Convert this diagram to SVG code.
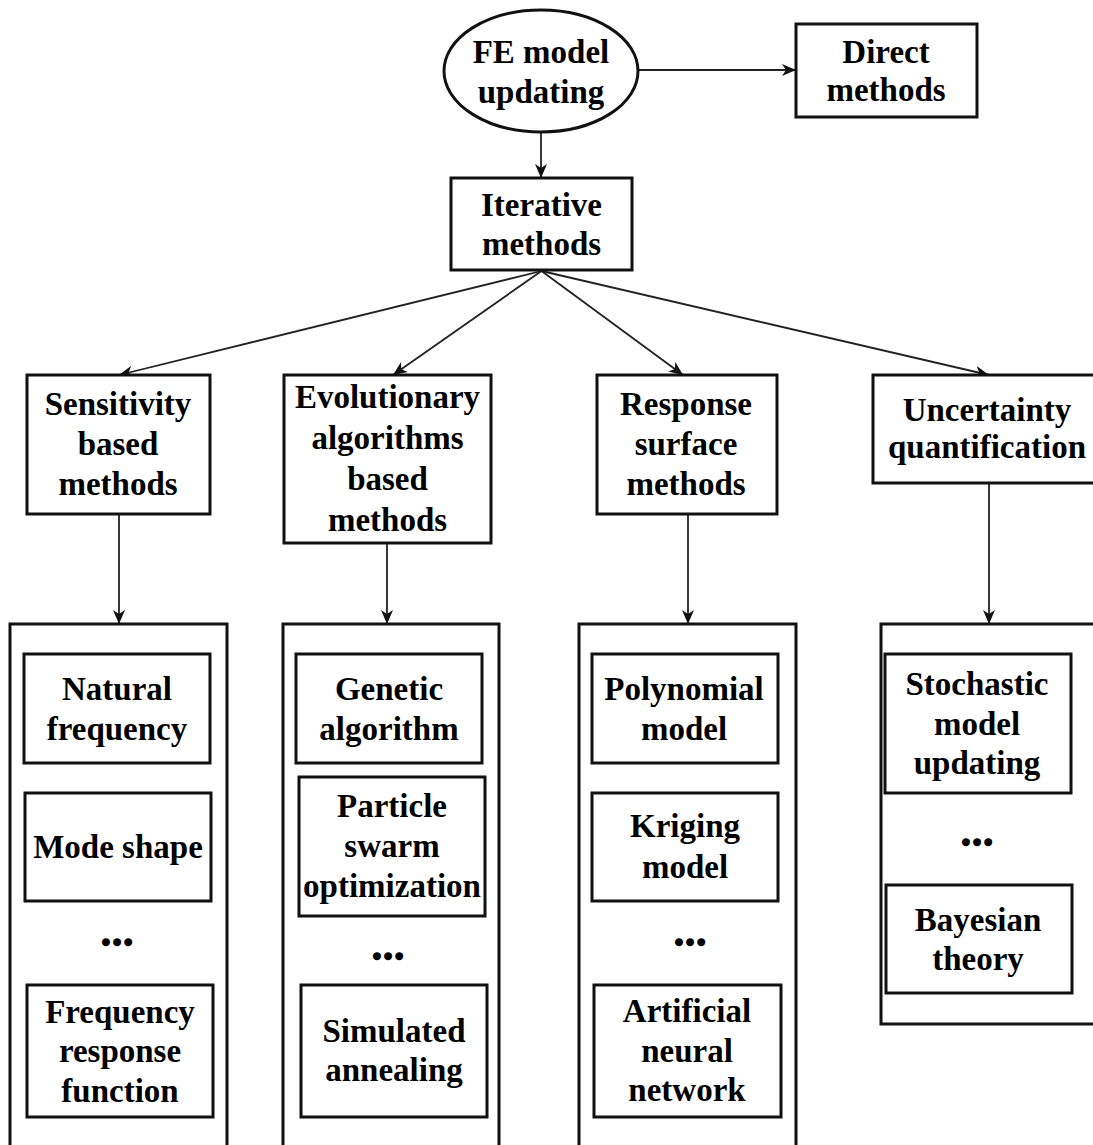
<svg xmlns="http://www.w3.org/2000/svg" width="1093" height="1145" viewBox="0 0 1093 1145">
<style>
.box{fill:#fff;stroke:#111;stroke-width:3}
.cont{fill:none;stroke:#111;stroke-width:3}
.con{fill:none;stroke:#222;stroke-width:1.8}
text{font-family:"Liberation Serif","Times New Roman",serif;font-weight:bold;font-size:33px;fill:#000;text-anchor:middle}
text.dots{stroke:#000;stroke-width:2.6}
</style>
<defs>
<marker id="ah" markerUnits="userSpaceOnUse" markerWidth="14" markerHeight="12" refX="14" refY="6" orient="auto">
<path d="M0,0 L14,6 L0,12 L4,6 z" fill="#111"/>
</marker>
</defs>
<rect width="1093" height="1145" fill="#fff"/>
<g id="connectors">
<line class="con" x1="638" y1="70" x2="796" y2="70" marker-end="url(#ah)"/>
<line class="con" x1="541" y1="132" x2="541" y2="178" marker-end="url(#ah)"/>
<line class="con" x1="541.5" y1="271" x2="119" y2="375" marker-end="url(#ah)"/>
<line class="con" x1="541.5" y1="271" x2="393" y2="375" marker-end="url(#ah)"/>
<line class="con" x1="541.5" y1="271" x2="683" y2="375" marker-end="url(#ah)"/>
<line class="con" x1="541.5" y1="271" x2="989" y2="375" marker-end="url(#ah)"/>
<line class="con" x1="119" y1="514" x2="119" y2="624" marker-end="url(#ah)"/>
<line class="con" x1="387" y1="543" x2="387" y2="624" marker-end="url(#ah)"/>
<line class="con" x1="688" y1="514" x2="688" y2="624" marker-end="url(#ah)"/>
<line class="con" x1="989" y1="483" x2="989" y2="624" marker-end="url(#ah)"/>
</g>
<g id="fe-model-updating">
<ellipse class="box" cx="541" cy="71" rx="97" ry="61"/>
<text x="541" y="63">FE model</text>
<text x="541" y="103">updating</text>
</g>
<g id="direct-methods">
<rect class="box" x="796" y="24" width="181" height="93"/>
<text x="886" y="63">Direct</text>
<text x="886" y="101">methods</text>
</g>
<g id="iterative-methods">
<rect class="box" x="451" y="178" width="181" height="92"/>
<text x="541.5" y="216">Iterative</text>
<text x="541.5" y="255">methods</text>
</g>
<g id="sensitivity">
<rect class="box" x="27" y="375" width="183" height="139"/>
<text x="118" y="415">Sensitivity</text>
<text x="118" y="455">based</text>
<text x="118" y="495">methods</text>
</g>
<g id="evolutionary">
<rect class="box" x="284" y="375" width="207" height="168"/>
<text x="387.5" y="408">Evolutionary</text>
<text x="387.5" y="449">algorithms</text>
<text x="387.5" y="490">based</text>
<text x="387.5" y="531">methods</text>
</g>
<g id="response-surface">
<rect class="box" x="597" y="375" width="180" height="139"/>
<text x="686" y="415">Response</text>
<text x="686" y="455">surface</text>
<text x="686" y="495">methods</text>
</g>
<g id="uncertainty">
<rect class="box" x="873" y="375" width="230" height="108"/>
<text x="987" y="421">Uncertainty</text>
<text x="987" y="458">quantification</text>
</g>
<g id="group-sensitivity">
<path class="cont" d="M10,1150 V624 H227 V1150"/>
<g id="natural-frequency">
<rect class="box" x="24" y="654" width="186" height="109"/>
<text x="117" y="700">Natural</text>
<text x="117" y="740">frequency</text>
</g>
<g id="mode-shape">
<rect class="box" x="25" y="793" width="186" height="108"/>
<text x="118" y="858">Mode shape</text>
</g>
<text class="dots" x="117" y="945">…</text>
<g id="frf">
<rect class="box" x="27" y="985" width="186" height="132"/>
<text x="120" y="1023">Frequency</text>
<text x="120" y="1062">response</text>
<text x="120" y="1102">function</text>
</g>
</g>
<g id="group-evolutionary">
<path class="cont" d="M283,1150 V624 H499 V1150"/>
<g id="genetic-algorithm">
<rect class="box" x="296" y="654" width="186" height="109"/>
<text x="389" y="700">Genetic</text>
<text x="389" y="740">algorithm</text>
</g>
<g id="pso">
<rect class="box" x="299" y="777" width="186" height="139"/>
<text x="392" y="817">Particle</text>
<text x="392" y="857">swarm</text>
<text x="392" y="897">optimization</text>
</g>
<text class="dots" x="388" y="959">…</text>
<g id="simulated-annealing">
<rect class="box" x="301" y="985" width="186" height="132"/>
<text x="394" y="1042">Simulated</text>
<text x="394" y="1081">annealing</text>
</g>
</g>
<g id="group-response">
<path class="cont" d="M579,1150 V624 H796 V1150"/>
<g id="polynomial-model">
<rect class="box" x="592" y="654" width="186" height="109"/>
<text x="684" y="700">Polynomial</text>
<text x="684" y="740">model</text>
</g>
<g id="kriging-model">
<rect class="box" x="592" y="793" width="186" height="108"/>
<text x="685" y="837">Kriging</text>
<text x="685" y="878">model</text>
</g>
<text class="dots" x="690" y="945">…</text>
<g id="ann">
<rect class="box" x="594" y="985" width="187" height="132"/>
<text x="687" y="1022">Artificial</text>
<text x="687" y="1062">neural</text>
<text x="687" y="1101">network</text>
</g>
</g>
<g id="group-uncertainty">
<path class="cont" d="M1100,1024 H881 V624 H1100"/>
<g id="stochastic">
<rect class="box" x="885" y="654" width="186" height="139"/>
<text x="977" y="695">Stochastic</text>
<text x="977" y="735">model</text>
<text x="977" y="774">updating</text>
</g>
<text class="dots" x="977" y="845">…</text>
<g id="bayesian">
<rect class="box" x="886" y="885" width="186" height="108"/>
<text x="978" y="931">Bayesian</text>
<text x="978" y="970">theory</text>
</g>
</g>
</svg>
